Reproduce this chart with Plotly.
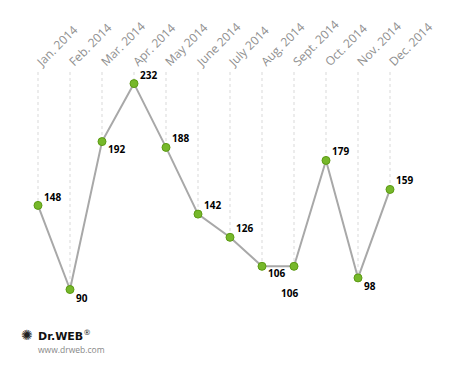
import plotly.graph_objects as go

months = ["Jan. 2014", "Feb. 2014", "Mar. 2014", "Apr. 2014", "May 2014", "June 2014",
          "July 2014", "Aug. 2014", "Sept. 2014", "Oct. 2014", "Nov. 2014", "Dec. 2014"]
values = [148, 90, 192, 232, 188, 142, 126, 106, 106, 179, 98, 159]

# label offsets (pixels) relative to each point – styling only
label_dx = [4, 4, 4, 4, 4, 4, 4, 4, -15, 4, 4, 4]
label_dy = [8, -8, -7, 9, 9, 9, 9, -7, -27, 9, -8, 9]

Y_MIN, Y_MAX = 80, 240
L, R, T, B = 22, 44, 72, 64
W, H = 450, 368
PW, PH = W - L - R, H - T - B

fig = go.Figure()

# dotted drop lines from top to each point
dx, dy = [], []
for m, v in zip(months, values):
    dx += [m, m, None]
    dy += [Y_MAX, v, None]
fig.add_trace(go.Scatter(x=dx, y=dy, mode="lines",
                         line=dict(color="#d9d9d9", width=1, dash="dot"),
                         hoverinfo="skip", showlegend=False))

fig.add_trace(go.Scatter(x=months, y=values, mode="lines+markers",
                         line=dict(color="#a8a8a8", width=2),
                         marker=dict(size=8, color="#76b82a",
                                     line=dict(color="#5c9a14", width=1)),
                         showlegend=False))

for m, v, ox, oy in zip(months, values, label_dx, label_dy):
    fig.add_annotation(x=m, y=v, text=str(v), showarrow=False,
                       xanchor="left", yanchor="middle", xshift=ox, yshift=oy,
                       font=dict(family="Open Sans", size=10, color="#000000", weight="bold"))

# logo
def px(x):
    return (x - L) / PW
def py(y):
    return (T + PH - y) / PH

fig.add_annotation(xref="paper", yref="paper", x=px(19), y=py(335), text="✺",
                   showarrow=False, xanchor="left", yanchor="middle",
                   font=dict(family="DejaVu Sans", size=14, color="#222222"))
fig.add_annotation(xref="paper", yref="paper", x=px(36), y=py(335),
                   text="<b>Dr.WEB</b><sup>®</sup>",
                   showarrow=False, xanchor="left", yanchor="middle",
                   font=dict(family="DejaVu Sans", size=11, color="#111111"))
fig.add_annotation(xref="paper", yref="paper", x=px(36), y=py(349),
                   text="www.drweb.com",
                   showarrow=False, xanchor="left", yanchor="middle",
                   font=dict(family="Open Sans", size=8.5, color="#888888"))

fig.update_xaxes(type="category", side="top", tickangle=-45, range=[-0.5, 11.5],
                 showgrid=False, zeroline=False, showline=False, ticks="",
                 automargin=False,
                 tickfont=dict(family="Open Sans", size=12, color="#8f8f8f"))
fig.update_yaxes(range=[Y_MIN, Y_MAX], visible=False, showgrid=False, zeroline=False,
                 automargin=False)

fig.update_layout(width=W, height=H, margin=dict(l=L, r=R, t=T, b=B, autoexpand=False),
                  plot_bgcolor="white", paper_bgcolor="white")

fig.write_html("out.html", config={"displayModeBar": False})

# remove default page margin so the figure sits at the window origin
with open("out.html", "r", encoding="utf-8") as f:
    html = f.read()
html = html.replace("<body>", '<body style="margin:0;padding:0;">', 1)
with open("out.html", "w", encoding="utf-8") as f:
    f.write(html)
